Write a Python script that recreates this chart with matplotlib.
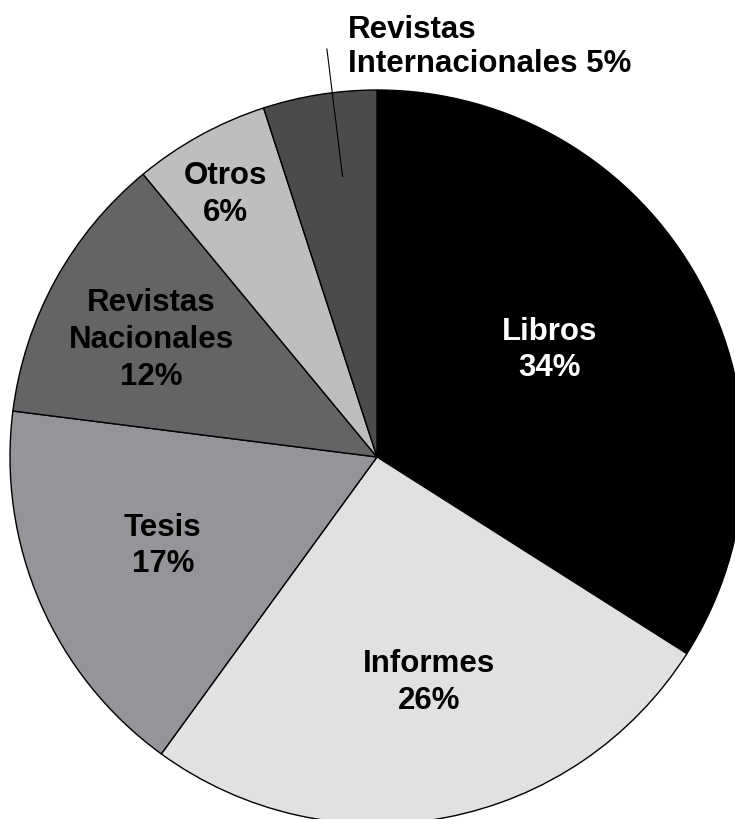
import numpy as np
import matplotlib.pyplot as plt

plt.rcParams['font.family'] = ['Liberation Sans', 'DejaVu Sans']

# Data
categorias = ['Libros', 'Informes', 'Tesis', 'Revistas\nNacionales', 'Otros', 'Revistas\nInternacionales']
porcentajes = [34, 26, 17, 12, 6, 5]
colores = ['#000000', '#e0e1e3', '#939598', '#636466', '#bcbec0', '#4b4b4d']
texto_color = ['white', 'black', 'black', 'black', 'black', 'black']
# label placement: fraction of radius and angle shift from wedge middle (deg)
dist_label = [0.553, 0.631, 0.632, 0.692, 0.826, None]
giro_label = [3.0, 2.2, -0.8, 1.4, 1.1, -2.0]

W, H = 735, 819
fig = plt.figure(figsize=(W / 100, H / 100), dpi=100)
ax = fig.add_axes([0, 0, 1, 1])

cx, cy, R = 377, H - 457, 367
wedges, _ = ax.pie(porcentajes, colors=colores, startangle=90, counterclock=False,
                   center=(cx, cy), radius=R, frame=True,
                   wedgeprops=dict(edgecolor='black', linewidth=1.0))
ax.set_xlim(0, W)
ax.set_ylim(0, H)
ax.set_aspect('equal')
ax.axis('off')

for w, cat, p, tc, d, g in zip(wedges, categorias, porcentajes, texto_color, dist_label, giro_label):
    a = np.deg2rad((w.theta1 + w.theta2) / 2 + g)
    if d is None:
        # label outside with leader line
        ax.plot([cx + 0.77 * R * np.cos(a), cx + 1.12 * R * np.cos(a)],
                [cy + 0.77 * R * np.sin(a), cy + 1.12 * R * np.sin(a)],
                color='black', linewidth=0.8)
        ax.text(348, H - 47, f'{cat} {p}%', ha='left', va='center',
                fontsize=22.5, fontweight='bold', color=tc, linespacing=1.2)
        continue
    ax.text(cx + d * R * np.cos(a), cy + d * R * np.sin(a), f'{cat}\n{p}%',
            ha='center', va='center', fontsize=22.5, fontweight='bold',
            color=tc, linespacing=1.29)

fig.savefig('out.png', dpi=100)
